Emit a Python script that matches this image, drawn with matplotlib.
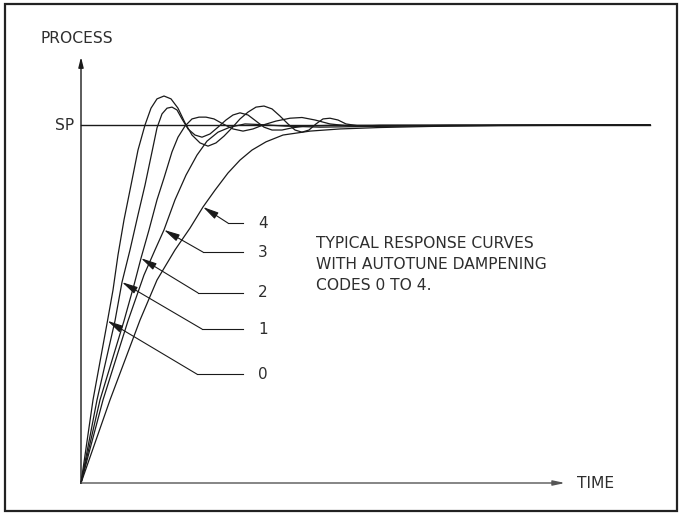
import matplotlib.pyplot as plt

# time in arbitrary units, process in % of set point (SP = 100)
t0 = [0, 1.2, 2.65, 3.2, 3.7, 4.3, 5.0, 5.7, 6.4, 7.0, 7.6, 8.3, 9.0, 9.7, 10.4, 11.1, 11.9, 12.7,
      13.5, 14.3, 15.1, 15.9, 16.7, 17.5, 18.3, 19.1, 19.9, 20.7, 21.4, 22.1, 22.8, 23.5, 24.2, 24.9,
      25.7, 26.5, 27.9, 29.9, 56.9]
p0 = [0, 23.2, 45.3, 53.9, 63.7, 73.5, 83.2, 93.0, 100.0, 104.7, 107.3, 108.1, 107.3, 104.7, 100.6,
      97.2, 95.0, 94.1, 95.0, 96.9, 99.2, 101.7, 103.6, 105.0, 105.3, 104.5, 102.5, 100.3, 98.6, 98.0,
      98.6, 100.3, 101.7, 101.9, 101.4, 100.3, 99.7, 99.9, 100.0]

t1 = [0, 1.6, 3.4, 4.1, 4.9, 5.7, 6.4, 7.1, 7.6, 8.1, 8.6, 9.1, 9.6, 10.1, 10.7, 11.4, 12.1, 12.9,
      13.7, 14.5, 15.2, 15.9, 16.7, 17.5, 18.3, 19.1, 20.1, 21.1, 22.4, 24.9, 56.9]
p1 = [0, 23.2, 45.3, 56.1, 65.1, 74.9, 83.2, 92.5, 99.2, 103.1, 104.7, 105.0, 104.2, 101.7, 98.9,
      97.2, 96.6, 97.5, 99.4, 101.4, 102.8, 103.4, 102.8, 101.1, 99.4, 98.6, 98.6, 99.2, 99.7, 99.9, 100.0]

t2 = [0, 1.9, 4.3, 5.3, 6.0, 6.8, 7.6, 8.3, 9.1, 9.7, 10.4, 11.1, 11.8, 12.5, 13.3, 14.2, 15.2, 16.2,
      17.2, 18.2, 19.5, 20.9, 22.1, 23.4, 24.9, 26.9, 29.9, 56.9]
p2 = [0, 23.2, 45.3, 55.3, 62.8, 70.7, 79.1, 85.2, 92.5, 96.6, 99.7, 101.7, 102.2, 102.2, 101.7, 100.3,
      98.9, 98.3, 98.9, 100.0, 101.1, 101.9, 102.1, 101.4, 100.3, 99.7, 99.7, 100.0]

t3 = [0, 2.2, 4.7, 6.3, 7.4, 8.3, 9.4, 10.5, 11.6, 12.6, 13.7, 14.9, 16.4, 18.1, 20.4, 23.9, 28.9, 36.9, 56.9]
p3 = [0, 23.2, 45.3, 58.1, 65.1, 70.7, 79.1, 86.0, 91.6, 95.5, 98.0, 99.4, 100.3, 100.1, 99.7, 99.4,
      99.6, 99.9, 100.0]

t4 = [0, 2.9, 5.9, 7.6, 9.4, 10.9, 12.2, 13.4, 14.7, 15.9, 17.1, 18.5, 20.2, 22.9, 25.9, 29.9, 34.9, 41.9, 56.9]
p4 = [0, 23.2, 45.5, 56.7, 65.1, 71.2, 77.1, 81.8, 86.6, 90.2, 93.0, 95.3, 97.2, 98.3, 98.9, 99.3,
      99.6, 99.9, 100.0]

codes = ["0", "1", "2", "3", "4"]
# where each leader arrow touches its curve
tip_t = [2.65, 4.1, 6.0, 8.3, 12.2]
tip_p = [45.3, 56.1, 62.8, 70.7, 77.1]
# bend of each leader and the height of its label
knee_t = [11.6, 12.1, 11.7, 12.2, 14.7]
label_p = [30.4, 43.0, 53.1, 64.5, 72.6]

sp = 100
t_end = 56.9
note = ["TYPICAL RESPONSE CURVES", "WITH AUTOTUNE DAMPENING", "CODES 0 TO 4."]

ink = "#1a1a1a"
txt = "#2e2e2e"
fs = 11.2

fig = plt.figure(figsize=(6.8, 5.13), dpi=100)
ax = fig.add_axes([0, 0, 1, 1])
ax.set_xlim(-8.1, 59.9)
ax.set_ylim(-8.38, 134.92)
ax.axis("off")

# outer frame
fig.patches.append(plt.Rectangle((4.5 / 680, 2.0 / 513), 672.5 / 680, 507 / 513,
                                 transform=fig.transFigure, fill=False, lw=1.6, ec="#222222"))

# axes with arrowheads
ax.annotate("", xy=(0, 119.0), xytext=(0, 0),
            arrowprops=dict(arrowstyle="-|>,head_length=0.6,head_width=0.15",
                            lw=1.0, color=ink, shrinkA=0, shrinkB=0))
ax.annotate("", xy=(48.4, 0), xytext=(0, 0),
            arrowprops=dict(arrowstyle="-|>,head_length=0.7,head_width=0.15",
                            lw=1.0, color="#555555", shrinkA=0, shrinkB=0))
ax.text(-4.1, 124.3, "PROCESS", ha="left", va="center", fontsize=fs, color=txt)
ax.text(49.6, 0, "TIME", ha="left", va="center", fontsize=fs, color=txt)

# set point
ax.plot([0, t_end], [sp, sp], color=ink, lw=1.0)
ax.text(-0.7, sp, "SP", ha="right", va="center", fontsize=fs, color=txt)

for t, p in [(t0, p0), (t1, p1), (t2, p2), (t3, p3), (t4, p4)]:
    ax.plot(t, p, color=ink, lw=0.9, solid_joinstyle="round")

for i in range(len(codes)):
    ax.plot([knee_t[i], 16.2], [label_p[i], label_p[i]], color=ink, lw=0.8)
    ax.annotate("", xy=(tip_t[i], tip_p[i]), xytext=(knee_t[i], label_p[i]),
                arrowprops=dict(arrowstyle="-|>,head_length=0.95,head_width=0.22",
                                lw=0.8, color=ink, shrinkA=0, shrinkB=0))
    ax.text(17.7, label_p[i], codes[i], ha="left", va="center", fontsize=11, color=txt)

for k, line in enumerate(note):
    ax.text(23.5, 67.0 - k * 5.85, line, ha="left", va="center", fontsize=fs, color=txt)

plt.savefig("out.png", dpi=100)
